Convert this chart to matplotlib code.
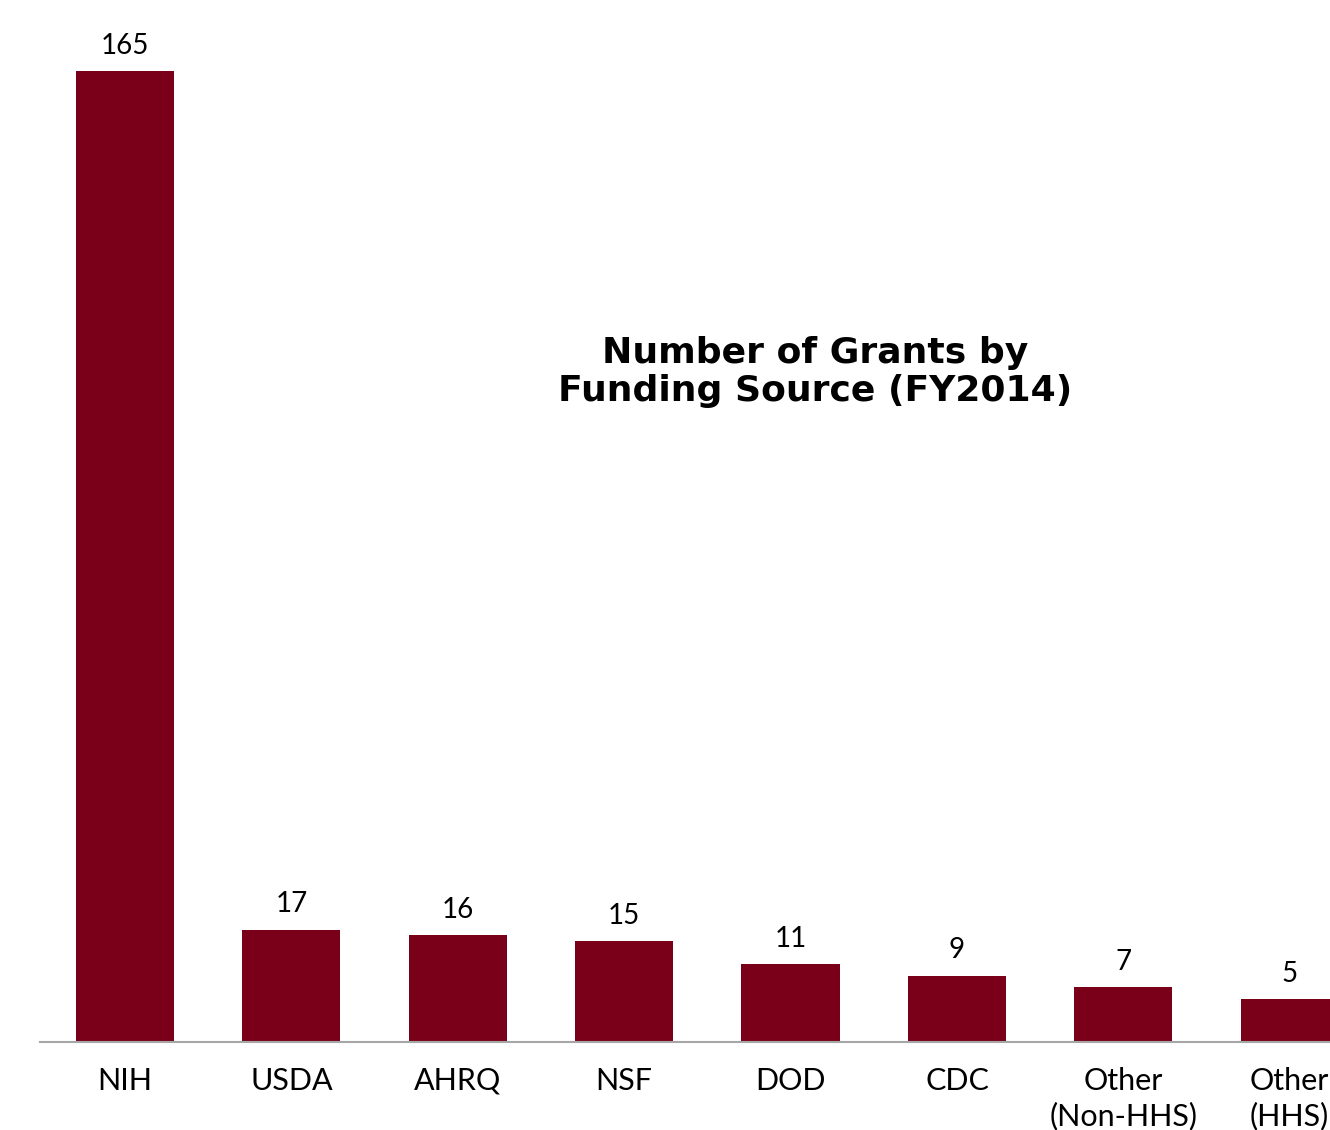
import numpy as np
import matplotlib.pyplot as plt

plt.rcParams['font.family'] = ['Lato', 'DejaVu Sans']

# данные
sources = ["NIH", "USDA", "AHRQ", "NSF", "DOD", "CDC", "Other\n(Non-HHS)", "Other\n(HHS)"]
grants = [165, 17, 16, 15, 11, 9, 7, 5]

bar_color = "#7A0019"
y_floor = -2.4  # ось начинается чуть ниже нуля, как в оригинале

fig = plt.figure(figsize=(13.3, 11.3), dpi=100)
ax = fig.add_axes([40 / 1330, 88 / 1130, 1 - 40 / 1330, 1042 / 1130])

x = np.arange(len(sources))
vals = np.array(grants, dtype=float)
bars = ax.bar(x, vals - y_floor, bottom=y_floor, width=0.59, color=bar_color)

for xi, v in zip(x, grants):
    ax.annotate(str(v), (xi, v), xytext=(0, 9), textcoords="offset points",
                ha="center", va="bottom", fontsize=20, color="black")

ax.set_xlim(-0.511, 7.242)
ax.set_ylim(y_floor, 177.3)

ax.set_xticks(x)
ax.set_xticklabels(sources, fontsize=22, linespacing=1.3)
ax.tick_params(axis="x", length=0, pad=18)
ax.set_yticks([])

for s in ["top", "right", "left"]:
    ax.spines[s].set_visible(False)
ax.spines["bottom"].set_color("#A6A6A6")
ax.spines["bottom"].set_linewidth(1.5)

fig.text(815 / 1330, 1 - 372 / 1130, "Number of Grants by\nFunding Source (FY2014)",
         ha="center", va="center", fontsize=26, fontweight="bold", linespacing=1.15,
         family=["DejaVu Sans"])

fig.savefig("out.png", dpi=100)
